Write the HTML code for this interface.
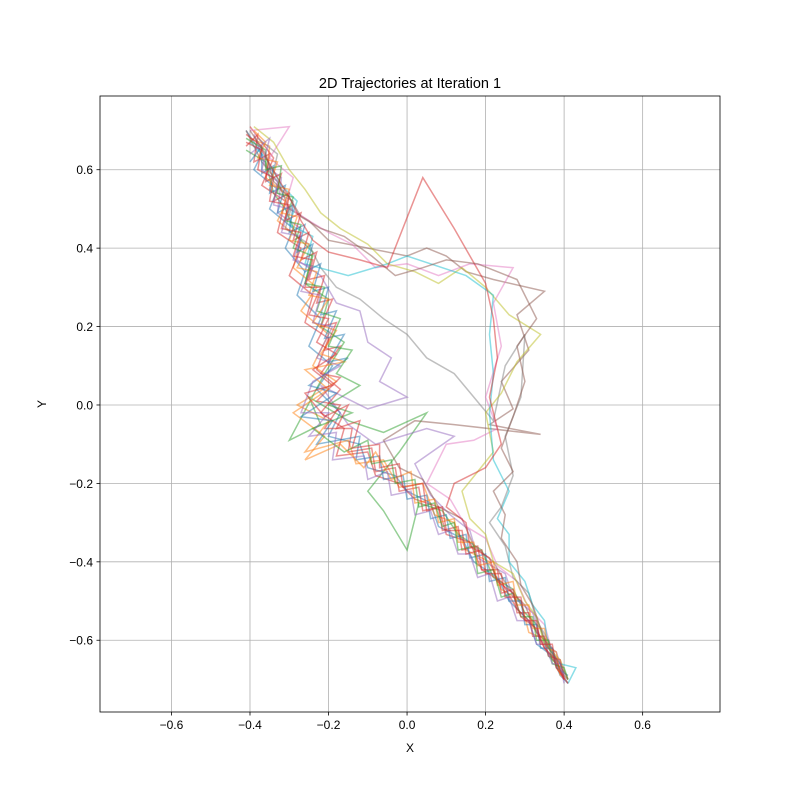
<!DOCTYPE html>
<html><head><meta charset="utf-8"><style>
body{margin:0;background:#fff;}
svg text{font-family:"Liberation Sans","DejaVu Sans",sans-serif;}
</style></head><body>
<svg id="chart" width="800" height="800" xmlns="http://www.w3.org/2000/svg">
<rect width="800" height="800" fill="#fff"/>
<g id="grid"></g><g id="series"></g><g id="axes"></g>
</svg>
<script>
const xTicks=[-0.6,-0.4,-0.2,0.0,0.2,0.4,0.6];
const yTicks=[-0.6,-0.4,-0.2,0.0,0.2,0.4,0.6];
const colors=["#1f77b4","#ff7f0e","#2ca02c","#d62728","#9467bd","#8c564b","#e377c2","#7f7f7f","#bcbd22","#17becf"];
const s0=[[-0.41,0.70],[-0.37,0.64],[-0.39,0.60],[-0.33,0.55],[-0.35,0.50],[-0.29,0.45],[-0.31,0.40],[-0.26,0.34],[-0.28,0.28],[-0.22,0.22],[-0.25,0.15],[-0.19,0.10],[-0.23,0.04],[-0.17,-0.02],[-0.20,-0.08],[-0.12,-0.10],[-0.10,-0.16],[-0.03,-0.18],[0.00,-0.22],[0.06,-0.25],[0.08,-0.31],[0.14,-0.34],[0.17,-0.40],[0.23,-0.44],[0.26,-0.50],[0.31,-0.55],[0.33,-0.61],[0.37,-0.64],[0.39,-0.69],[0.41,-0.71]];
const s1=[[-0.40,0.68],[-0.35,0.66],[-0.36,0.58],[-0.30,0.53],[-0.33,0.47],[-0.27,0.42],[-0.29,0.35],[-0.23,0.30],[-0.27,0.24],[-0.20,0.18],[-0.24,0.10],[-0.18,0.06],[-0.28,0.00],[-0.20,-0.04],[-0.26,-0.12],[-0.15,-0.09],[-0.13,-0.15],[-0.06,-0.14],[-0.02,-0.21],[0.04,-0.20],[0.07,-0.28],[0.12,-0.30],[0.15,-0.37],[0.21,-0.40],[0.24,-0.47],[0.29,-0.50],[0.31,-0.58],[0.36,-0.60],[0.38,-0.67],[0.40,-0.70]];
const s2=[[-0.41,0.65],[-0.36,0.62],[-0.34,0.54],[-0.31,0.50],[-0.28,0.43],[-0.24,0.39],[-0.26,0.31],[-0.20,0.27],[-0.22,0.20],[-0.16,0.16],[-0.21,0.08],[-0.30,-0.09],[-0.22,-0.05],[-0.25,0.02],[-0.15,-0.04],[-0.06,-0.07],[0.05,-0.02],[-0.02,-0.12],[-0.10,-0.22],[-0.06,-0.27],[0.00,-0.37],[0.03,-0.25],[0.09,-0.27],[0.13,-0.33],[0.19,-0.37],[0.22,-0.44],[0.27,-0.47],[0.30,-0.53],[0.34,-0.57],[0.36,-0.64],[0.40,-0.68]];
const s3=[[-0.40,0.71],[-0.34,0.63],[-0.37,0.56],[-0.31,0.52],[-0.33,0.44],[-0.27,0.40],[-0.30,0.33],[-0.24,0.28],[-0.26,0.21],[-0.20,0.17],[-0.23,0.09],[-0.17,0.04],[-0.22,-0.02],[-0.16,-0.06],[-0.18,-0.13],[-0.10,-0.12],[-0.08,-0.18],[-0.02,-0.20],[0.02,-0.24],[0.08,-0.26],[0.10,-0.33],[0.16,-0.35],[0.19,-0.42],[0.24,-0.45],[0.28,-0.52],[0.32,-0.56],[0.35,-0.62],[0.38,-0.66],[0.40,-0.70]];
const s4=[[-0.39,0.69],[-0.36,0.61],[-0.32,0.58],[-0.33,0.49],[-0.27,0.45],[-0.28,0.37],[-0.22,0.33],[-0.18,0.26],[-0.12,0.24],[-0.10,0.16],[-0.04,0.12],[-0.07,0.06],[0.00,0.02],[-0.10,-0.01],[-0.22,0.05],[-0.15,-0.05],[-0.08,-0.10],[0.05,-0.06],[0.12,-0.08],[0.02,-0.15],[0.06,-0.23],[0.11,-0.28],[0.16,-0.32],[0.18,-0.39],[0.25,-0.43],[0.27,-0.49],[0.32,-0.53],[0.34,-0.60],[0.38,-0.63],[0.40,-0.69]];
const s5=[[-0.41,0.70],[-0.37,0.62],[-0.33,0.57],[-0.30,0.50],[-0.25,0.47],[-0.20,0.42],[-0.10,0.40],[0.00,0.38],[0.05,0.40],[0.10,0.38],[0.15,0.34],[0.22,0.32],[0.35,0.29],[0.28,0.23],[0.31,0.14],[0.24,0.06],[0.27,-0.01],[0.21,-0.05],[0.34,-0.075],[0.12,-0.05],[0.02,-0.04],[-0.06,-0.09],[-0.02,-0.16],[0.04,-0.19],[0.08,-0.26],[0.14,-0.29],[0.17,-0.36],[0.22,-0.40],[0.26,-0.47],[0.30,-0.51],[0.33,-0.58],[0.37,-0.62],[0.39,-0.68],[0.41,-0.70]];
const s6=[[-0.40,0.70],[-0.30,0.71],[-0.35,0.63],[-0.29,0.58],[-0.31,0.51],[-0.25,0.47],[-0.20,0.44],[-0.14,0.41],[-0.08,0.35],[0.00,0.36],[0.08,0.33],[0.16,0.36],[0.27,0.35],[0.22,0.26],[0.24,0.15],[0.20,0.02],[0.23,-0.06],[0.17,-0.09],[0.10,-0.10],[0.05,-0.20],[0.11,-0.24],[0.15,-0.31],[0.20,-0.34],[0.23,-0.41],[0.28,-0.45],[0.31,-0.52],[0.35,-0.56],[0.37,-0.63],[0.40,-0.67]];
const s7=[[-0.38,0.68],[-0.33,0.64],[-0.35,0.55],[-0.29,0.52],[-0.31,0.45],[-0.25,0.41],[-0.22,0.35],[-0.18,0.30],[-0.12,0.27],[-0.06,0.22],[0.00,0.18],[0.05,0.12],[0.12,0.08],[0.17,0.02],[0.22,-0.04],[0.25,0.10],[0.30,0.18],[0.29,0.02],[0.25,-0.08],[0.27,-0.18],[0.24,-0.26],[0.21,-0.30],[0.25,-0.36],[0.27,-0.44],[0.31,-0.48],[0.33,-0.55],[0.36,-0.60],[0.38,-0.66],[0.41,-0.71]];
const s8=[[-0.39,0.71],[-0.34,0.67],[-0.30,0.60],[-0.26,0.55],[-0.22,0.49],[-0.17,0.45],[-0.10,0.41],[-0.05,0.36],[0.02,0.34],[0.08,0.31],[0.14,0.35],[0.20,0.30],[0.26,0.23],[0.34,0.18],[0.28,0.11],[0.24,0.03],[0.20,-0.02],[0.22,-0.12],[0.18,-0.17],[0.14,-0.22],[0.16,-0.29],[0.20,-0.33],[0.22,-0.40],[0.27,-0.43],[0.30,-0.50],[0.33,-0.54],[0.35,-0.61],[0.39,-0.65],[0.41,-0.70]];
const s9=[[-0.40,0.67],[-0.36,0.63],[-0.32,0.56],[-0.28,0.52],[-0.30,0.46],[-0.24,0.43],[-0.26,0.36],[-0.15,0.33],[-0.05,0.36],[0.00,0.38],[0.15,0.33],[0.22,0.28],[0.21,0.18],[0.22,0.08],[0.21,-0.02],[0.22,-0.14],[0.26,-0.22],[0.23,-0.29],[0.26,-0.33],[0.26,-0.40],[0.30,-0.45],[0.32,-0.51],[0.35,-0.55],[0.36,-0.62],[0.39,-0.66],[0.43,-0.67],[0.41,-0.71]];
const s10=[[-0.41,0.66],[-0.38,0.69],[-0.39,0.62],[-0.35,0.64],[-0.36,0.57],[-0.32,0.59],[-0.34,0.52],[-0.30,0.54],[-0.31,0.47],[-0.27,0.49],[-0.29,0.42],[-0.25,0.44],[-0.27,0.37],[-0.23,0.39],[-0.25,0.32],[-0.21,0.33],[-0.23,0.26],[-0.19,0.27],[-0.22,0.20],[-0.18,0.21],[-0.21,0.14],[-0.17,0.15],[-0.22,0.08],[-0.17,0.07],[-0.23,0.01],[-0.17,0.00],[-0.21,-0.06],[-0.14,-0.06],[-0.15,-0.12],[-0.09,-0.11],[-0.08,-0.17],[-0.03,-0.16],[-0.02,-0.22],[0.03,-0.21],[0.04,-0.27],[0.08,-0.26],[0.09,-0.32],[0.13,-0.31],[0.14,-0.37],[0.18,-0.36],[0.19,-0.42],[0.23,-0.42],[0.24,-0.48],[0.27,-0.47],[0.28,-0.53],[0.31,-0.53],[0.32,-0.59],[0.35,-0.59],[0.36,-0.64],[0.39,-0.65],[0.40,-0.70]];
const s11=[[-0.40,0.62],[-0.37,0.66],[-0.37,0.59],[-0.34,0.61],[-0.35,0.54],[-0.31,0.56],[-0.33,0.49],[-0.29,0.51],[-0.30,0.44],[-0.26,0.46],[-0.28,0.39],[-0.24,0.41],[-0.26,0.34],[-0.22,0.36],[-0.24,0.29],[-0.20,0.30],[-0.22,0.23],[-0.18,0.24],[-0.21,0.17],[-0.16,0.18],[-0.20,0.11],[-0.15,0.12],[-0.25,0.05],[-0.18,0.03],[-0.27,-0.03],[-0.19,-0.04],[-0.23,-0.10],[-0.12,-0.08],[-0.13,-0.14],[-0.07,-0.13],[-0.06,-0.19],[-0.01,-0.18],[0.00,-0.24],[0.05,-0.23],[0.06,-0.29],[0.10,-0.28],[0.11,-0.34],[0.15,-0.33],[0.16,-0.39],[0.20,-0.38],[0.21,-0.45],[0.25,-0.44],[0.26,-0.50],[0.29,-0.50],[0.30,-0.56],[0.33,-0.56],[0.34,-0.62],[0.37,-0.62],[0.38,-0.67],[0.41,-0.69]];
const s12=[[-0.39,0.70],[-0.36,0.67],[-0.38,0.63],[-0.33,0.62],[-0.35,0.56],[-0.30,0.55],[-0.32,0.49],[-0.28,0.48],[-0.30,0.42],[-0.25,0.41],[-0.28,0.35],[-0.23,0.34],[-0.25,0.28],[-0.20,0.27],[-0.24,0.21],[-0.18,0.19],[-0.22,0.13],[-0.16,0.11],[-0.26,0.09],[-0.20,0.04],[-0.29,-0.02],[-0.21,-0.08],[-0.26,-0.14],[-0.17,-0.10],[-0.11,-0.16],[-0.08,-0.12],[-0.04,-0.19],[0.01,-0.17],[0.02,-0.25],[0.07,-0.24],[0.08,-0.30],[0.12,-0.29],[0.13,-0.35],[0.17,-0.35],[0.18,-0.41],[0.22,-0.40],[0.23,-0.46],[0.27,-0.45],[0.28,-0.51],[0.31,-0.51],[0.32,-0.57],[0.35,-0.57],[0.36,-0.62],[0.38,-0.63],[0.39,-0.69]];
const s13=[[-0.41,0.68],[-0.36,0.65],[-0.36,0.60],[-0.32,0.61],[-0.33,0.54],[-0.29,0.53],[-0.31,0.47],[-0.27,0.46],[-0.29,0.40],[-0.24,0.38],[-0.26,0.31],[-0.21,0.30],[-0.23,0.24],[-0.17,0.22],[-0.20,0.15],[-0.14,0.14],[-0.18,0.08],[-0.12,0.05],[-0.20,0.00],[-0.14,-0.02],[-0.24,-0.06],[-0.16,-0.12],[-0.10,-0.09],[-0.09,-0.15],[-0.04,-0.14],[-0.03,-0.20],[0.02,-0.19],[0.03,-0.26],[0.07,-0.25],[0.09,-0.31],[0.12,-0.30],[0.13,-0.37],[0.17,-0.36],[0.18,-0.43],[0.22,-0.42],[0.24,-0.49],[0.27,-0.48],[0.29,-0.54],[0.32,-0.54],[0.33,-0.60],[0.36,-0.60],[0.37,-0.66],[0.40,-0.67],[0.41,-0.70]];
const s14=[[-0.40,0.64],[-0.35,0.68],[-0.37,0.60],[-0.33,0.57],[-0.34,0.51],[-0.30,0.50],[-0.32,0.44],[-0.27,0.43],[-0.29,0.37],[-0.24,0.35],[-0.27,0.29],[-0.22,0.28],[-0.24,0.21],[-0.19,0.20],[-0.23,0.12],[-0.17,0.10],[-0.24,0.06],[-0.27,-0.02],[-0.20,-0.02],[-0.25,-0.08],[-0.18,-0.07],[-0.19,-0.14],[-0.11,-0.13],[-0.10,-0.19],[-0.05,-0.17],[-0.04,-0.23],[0.01,-0.22],[0.02,-0.28],[0.06,-0.27],[0.08,-0.33],[0.11,-0.32],[0.13,-0.38],[0.16,-0.38],[0.18,-0.44],[0.21,-0.43],[0.23,-0.50],[0.26,-0.49],[0.28,-0.55],[0.31,-0.55],[0.33,-0.61],[0.35,-0.61],[0.37,-0.66],[0.39,-0.66],[0.40,-0.71]];
const s15=[[-0.41,0.69],[-0.37,0.66],[-0.38,0.60],[-0.34,0.58],[-0.35,0.52],[-0.30,0.51],[-0.32,0.45],[-0.27,0.44],[-0.29,0.38],[-0.24,0.37],[-0.26,0.30],[-0.22,0.30],[-0.25,0.23],[-0.20,0.22],[-0.23,0.16],[-0.18,0.13],[-0.24,0.09],[-0.19,0.05],[-0.26,0.03],[-0.21,-0.03],[-0.15,0.00],[-0.18,-0.06],[-0.12,-0.04],[-0.14,-0.11],[-0.07,-0.10],[-0.07,-0.16],[-0.02,-0.15],[-0.01,-0.21],[0.04,-0.20],[0.05,-0.27],[0.09,-0.26],[0.10,-0.32],[0.14,-0.32],[0.15,-0.38],[0.19,-0.37],[0.20,-0.43],[0.24,-0.43],[0.25,-0.49],[0.29,-0.49],[0.30,-0.55],[0.33,-0.55],[0.34,-0.61],[0.37,-0.61],[0.38,-0.67],[0.41,-0.71]];
const s16=[[-0.41,0.67],[-0.37,0.65],[-0.33,0.58],[-0.30,0.53],[-0.27,0.47],[-0.24,0.42],[-0.20,0.39],[-0.12,0.37],[-0.05,0.35],[0.04,0.58],[0.12,0.45],[0.20,0.31],[0.22,0.22],[0.23,0.12],[0.21,0.02],[0.24,-0.10],[0.20,-0.16],[0.12,-0.20],[0.10,-0.26],[0.15,-0.30],[0.16,-0.36],[0.21,-0.39],[0.23,-0.45],[0.27,-0.48],[0.29,-0.54],[0.33,-0.57],[0.35,-0.62],[0.38,-0.65],[0.40,-0.70]];
const s17=[[-0.40,0.70],[-0.36,0.64],[-0.34,0.57],[-0.30,0.53],[-0.27,0.48],[-0.22,0.45],[-0.16,0.43],[-0.09,0.38],[-0.03,0.33],[0.04,0.35],[0.10,0.37],[0.18,0.36],[0.28,0.32],[0.33,0.22],[0.28,0.15],[0.30,0.06],[0.27,-0.03],[0.24,-0.11],[0.27,-0.17],[0.22,-0.22],[0.25,-0.28],[0.24,-0.34],[0.28,-0.40],[0.29,-0.46],[0.32,-0.51],[0.34,-0.57],[0.36,-0.62],[0.39,-0.66],[0.41,-0.70]];
const seriesData=[s0,s1,s2,s3,s4,s5,s6,s7,s8,s9,s10,s11,s12,s13,s14,s15,s16,s17];
const seriesColor=[0,1,2,3,4,5,6,7,8,9,3,0,1,2,4,3,3,5];
const XMIN=-0.782,XMAX=0.797,YMIN=-0.783,YMAX=0.788;
const L=100,R=720,T=96,B=712;
const xs=v=>L+(v-XMIN)/(XMAX-XMIN)*(R-L);
const ys=v=>B-(v-YMIN)/(YMAX-YMIN)*(B-T);
const NS="http://www.w3.org/2000/svg";
function mk(tag,attrs,parent,text){const e=document.createElementNS(NS,tag);for(const k in attrs)e.setAttribute(k,attrs[k]);if(text!==undefined)e.textContent=text;parent.appendChild(e);return e;}
const grid=document.getElementById('grid'),axes=document.getElementById('axes'),ser=document.getElementById('series');
xTicks.forEach(t=>{const x=xs(t);
 const g=mk('line',{x1:x,x2:x,y1:T,y2:B,stroke:'#b0b0b0','stroke-width':0.8},grid);
 
 
 mk('line',{x1:x,x2:x,y1:B,y2:B+3.5,stroke:'#000','stroke-width':0.8},axes);
 const l=mk('text',{x:x,y:B+17,'font-size':12,'text-anchor':'middle'},axes,(t<0?'\u2212':'')+Math.abs(t).toFixed(1));
 
 
});
yTicks.forEach(t=>{const y=ys(t);
 const g=mk('line',{x1:L,x2:R,y1:y,y2:y,stroke:'#b0b0b0','stroke-width':0.8},grid);
 
 
 mk('line',{x1:L-3.5,x2:L,y1:y,y2:y,stroke:'#000','stroke-width':0.8},axes);
 const l=mk('text',{x:L-7,y:y+4.5,'font-size':12,'text-anchor':'end'},axes,(t<0?'\u2212':'')+Math.abs(t).toFixed(1));
 
 
});
seriesData.forEach((s,i)=>{
 const p=mk('polyline',{points:s.map(d=>xs(d[0]).toFixed(1)+','+ys(d[1]).toFixed(1)).join(' '),fill:'none',stroke:colors[seriesColor[i]],'stroke-width':1.5,'stroke-opacity':0.5},ser);
 
 
});
const fr=mk('rect',{x:L,y:T,width:R-L,height:B-T,fill:'none',stroke:'#000','stroke-width':0.8},axes);


const ti=mk('text',{x:410,y:88,'font-size':14.5,'text-anchor':'middle'},axes,'2D Trajectories at Iteration 1');


const xl=mk('text',{x:410,y:752,'font-size':12,'text-anchor':'middle'},axes,'X');


const yl=mk('text',{x:46,y:404,'font-size':12,'text-anchor':'middle',transform:'rotate(-90 46 404)'},axes,'Y');


</script>
</body></html>
